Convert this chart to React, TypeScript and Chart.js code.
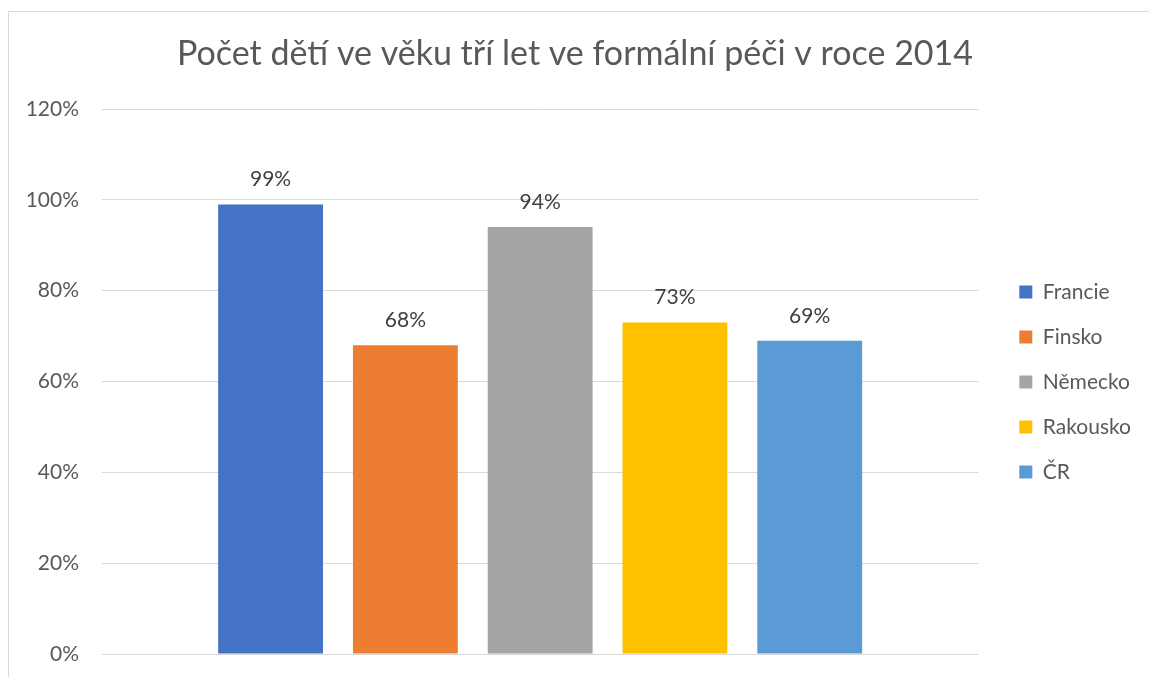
import React, { useEffect, useRef } from "react";
import { Chart, registerables } from "chart.js";

Chart.register(...registerables);

const categories = [""];
const seriesNames = ["Francie", "Finsko", "Německo", "Rakousko", "ČR"];
const seriesValues = [0.99, 0.68, 0.94, 0.73, 0.69];
const seriesColors = ["#4472C4", "#ED7D31", "#A5A5A5", "#FFC000", "#5B9BD5"];
const titleText = "Počet dětí ve věku tří let ve formální péči v roce 2014";

const FONT = "Lato, 'Open Sans', sans-serif";

const dataLabelPlugin = {
  id: "dataLabels",
  afterDatasetsDraw(chart: any) {
    const ctx = chart.ctx;
    ctx.save();
    ctx.font = `21px ${FONT}`;
    ctx.fillStyle = "#404040";
    ctx.textAlign = "center";
    ctx.textBaseline = "alphabetic";
    chart.data.datasets.forEach((ds: any, i: number) => {
      const meta = chart.getDatasetMeta(i);
      meta.data.forEach((bar: any, j: number) => {
        const v = ds.data[j];
        ctx.fillText(Math.round(v * 100) + "%", bar.x, bar.y - 18);
      });
    });
    ctx.restore();
  },
};

export default function App() {
  const ref = useRef<HTMLCanvasElement>(null);
  useEffect(() => {
    if (!ref.current) return;
    const chart = new Chart(ref.current, {
      type: "bar",
      data: {
        labels: categories,
        datasets: seriesNames.map((name, i) => ({
          label: name,
          data: [seriesValues[i]],
          backgroundColor: seriesColors[i],
          borderWidth: 0,
          categoryPercentage: 0.769,
          barPercentage: 0.778,
        })),
      },
      plugins: [dataLabelPlugin],
      options: {
        animation: false,
        responsive: false,
        maintainAspectRatio: false,
        layout: { padding: { left: 0, right: 8, top: 0, bottom: 23 } },
        plugins: {
          title: {
            display: true,
            text: titleText,
            color: "#595959",
            font: { family: FONT, size: 34, weight: "normal" },
            padding: { top: 22, bottom: 34.2 },
          },
          legend: {
            position: "right",
            title: {
              display: true,
              text: "",
              font: { size: 12 },
              padding: { top: 0, bottom: 83.6 },
            },
            labels: {
              boxWidth: 13,
              boxHeight: 13,
              padding: 24,
              color: "#595959",
              font: { family: FONT, size: 21 },
            },
          },
          tooltip: { enabled: false },
        },
        scales: {
          x: {
            display: false,
          },
          y: {
            min: 0,
            max: 1.2,
            ticks: {
              stepSize: 0.2,
              padding: 23,
              color: "#595959",
              font: { family: FONT, size: 21 },
              callback: (v: any) => Math.round(Number(v) * 100) + "%",
            },
            grid: { color: "#d9d9d9", lineWidth: 1, drawTicks: false },
            border: { display: false },
            afterFit: (s: any) => {
              s.width = 93;
              s.paddingTop = 0;
              s.paddingBottom = 0;
            },
          },
          y2: {
            position: "right",
            display: true,
            ticks: { display: false },
            grid: { display: false, drawTicks: false },
            border: { display: false },
            afterFit: (s: any) => {
              s.width = 17;
            },
          },
        },
      },
    });
    return () => chart.destroy();
  }, []);
  return (
    <div
      style={{
        position: "fixed",
        left: 8,
        top: 11,
        width: 1140,
        height: 665,
        borderTop: "1px solid #d9d9d9",
        borderLeft: "1px solid #d9d9d9",
        background: "#fff",
      }}
    >
      <canvas ref={ref} width={1140} height={665} style={{ display: "block" }} />
    </div>
  );
}
